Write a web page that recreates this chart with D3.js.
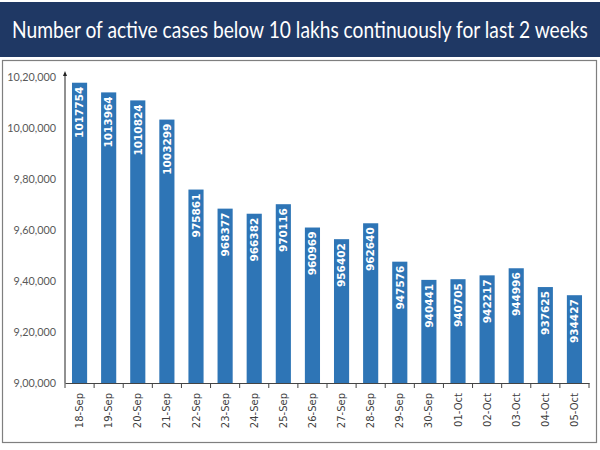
<!DOCTYPE html>
<html>
<head>
<meta charset="utf-8">
<script src="https://cdn.jsdelivr.net/npm/d3@7"></script>
<style>
  body { margin: 0; background: #fff; }
  svg { display: block; }
</style>
</head>
<body>
<svg id="chart" width="600" height="450"></svg>
<script>
var titleText = 'Number of active cases below 10 lakhs continuously for last 2 weeks';
var dates = ['18-Sep', '19-Sep', '20-Sep', '21-Sep', '22-Sep', '23-Sep', '24-Sep', '25-Sep', '26-Sep',
    '27-Sep', '28-Sep', '29-Sep', '30-Sep', '01-Oct', '02-Oct', '03-Oct', '04-Oct', '05-Oct'];
var activeCases = [1017754, 1013964, 1010824, 1003299, 975861, 968377, 966382, 970116, 960969,
    956402, 962640, 947576, 940441, 940705, 942217, 944996, 937625, 934427];
var yTicks = [900000, 920000, 940000, 960000, 980000, 1000000, 1020000];
var yTickLabels = ['9,00,000', '9,20,000', '9,40,000', '9,60,000', '9,80,000', '10,00,000', '10,20,000'];

function makeChart() {
    var svg = d3.select('#chart');
    var m = { left: 65, right: 589, top: 77, bottom: 383 };

    // 标题横幅
    svg.append('rect').attr('x', 0).attr('y', 2).attr('width', 600).attr('height', 55)
        .attr('fill', '#1f3864');
    svg.append('g').attr('transform', 'translate(300,38) scale(1,1.22)')
        .append('text').attr('text-anchor', 'middle')
        .attr('fill', '#fff').attr('font-family', 'Lato, sans-serif').attr('font-size', 19.2)
        .text(titleText);

    // 图表外框
    svg.append('rect').attr('x', 2.5).attr('y', 60.5).attr('width', 594).attr('height', 382)
        .attr('fill', '#fff').attr('stroke', '#7f7f7f').attr('stroke-width', 1.2);

    var x = d3.scaleBand().domain(dates).range([m.left, m.right]).paddingInner(0.48).paddingOuter(0.24);
    var y = d3.scaleLinear().domain([900000, 1020000]).range([m.bottom, m.top]);

    // 柱子
    svg.selectAll('rect.bar').data(activeCases).enter().append('rect')
        .attr('class', 'bar')
        .attr('x', (d, i) => x(dates[i]))
        .attr('y', d => y(d))
        .attr('width', x.bandwidth())
        .attr('height', d => y(900000) - y(d))
        .attr('fill', '#2e75b6');

    // 柱内数值
    svg.selectAll('text.val').data(activeCases).enter().append('text')
        .attr('class', 'val')
        .attr('transform', (d, i) => 'translate(' + (x(dates[i]) + x.bandwidth() / 2 + 3.8) + ',' + (y(d) + 4) + ') rotate(-90)')
        .attr('text-anchor', 'end')
        .attr('fill', '#fff').attr('font-weight', 'bold')
        .attr('font-family', '"DejaVu Sans", sans-serif').attr('font-size', 10.5)
        .text(d => d);

    // y轴
    var yAxis = svg.append('g').attr('transform', 'translate(' + m.left + ',0)')
        .call(d3.axisLeft(y).tickValues(yTicks).tickSize(0).tickPadding(9)
            .tickFormat((d, i) => yTickLabels[i]));
    yAxis.select('.domain').remove();
    yAxis.selectAll('text').attr('font-family', 'Lato, sans-serif').attr('font-size', 10.8).attr('fill', '#595959');
    svg.append('line').attr('x1', m.left).attr('x2', m.left).attr('y1', m.bottom).attr('y2', m.top - 3)
        .attr('stroke', '#222').attr('stroke-width', 1);
    svg.append('path').attr('d', d3.line()([[m.left - 2, m.top - 1], [m.left, m.top - 6], [m.left + 2, m.top - 1]]) + 'Z')
        .attr('fill', '#222');

    // x轴
    var xAxis = svg.append('g').attr('transform', 'translate(0,' + m.bottom + ')')
        .call(d3.axisBottom(x).tickSize(0).tickPadding(0));
    xAxis.select('.domain').attr('stroke', '#444');
    var edges = d3.range(dates.length + 1).map(i => m.left + i * x.step());
    xAxis.selectAll('line.edge').data(edges).enter().append('line')
        .attr('class', 'edge')
        .attr('x1', d => d).attr('x2', d => d).attr('y1', 0).attr('y2', 5)
        .attr('stroke', '#444');
    xAxis.selectAll('.tick text')
        .attr('transform', 'translate(3.5,10) rotate(-90)')
        .attr('dy', 0).attr('y', 0)
        .attr('text-anchor', 'end')
        .attr('font-family', '"DejaVu Sans", sans-serif').attr('font-size', 10).attr('fill', '#404040');
}

makeChart();
</script>
</body>
</html>
